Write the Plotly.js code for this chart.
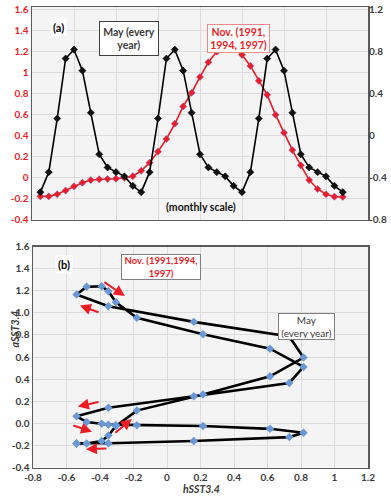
<!DOCTYPE html>
<html>
<head>
<meta charset="utf-8">
<script src="https://cdn.plot.ly/plotly-3.0.1.min.js"></script>
<style>html,body{margin:0;padding:0;background:#fff;}#chart{width:391px;height:503px;}</style>
</head>
<body>
<div id="chart"></div>
<script>
// Month index (monthly scale, 3 years + 1)
const months = [1,2,3,4,5,6,7,8,9,10,11,12,13,14,15,16,17,18,19,20,21,22,23,24,25,26,27,28,29,30,31,32,33,34,35,36,37];
// hSST3.4 (black, right axis in (a); x in (b)) - peaks every May
const hSST = [-0.54,-0.35,0.16,0.73,0.815,0.615,0.215,-0.18,-0.305,-0.35,-0.39,-0.48,
              -0.54,-0.35,0.16,0.73,0.815,0.615,0.215,-0.18,-0.305,-0.35,-0.39,-0.48,
              -0.54,-0.35,0.16,0.73,0.815,0.615,0.215,-0.18,-0.305,-0.35,-0.39,-0.48,-0.54];
// aSST3.4 (red, left axis in (a); y in (b)) - peak in Nov. 1991/1994/1997
const aSST = [-0.18,-0.18,-0.16,-0.125,-0.085,-0.05,-0.025,-0.018,-0.015,-0.012,-0.004,0.012,
              0.063,0.14,0.245,0.365,0.51,0.675,0.805,0.955,1.095,1.195,1.24,1.235,
              1.165,1.06,0.918,0.785,0.595,0.425,0.26,0.115,-0.025,-0.11,-0.16,-0.183,-0.185];

const leftTickVals = [-0.4,-0.2,0,0.2,0.4,0.6,0.8,1,1.2,1.4,1.6];
const leftTickText = ['-0.4','-0.2','0','0.2','0.4','0.6','0.8','1','1.2','1.4','1.6'];
const rightTickVals = [-0.8,-0.4,0,0.4,0.8,1.2];
const rightTickText = ['-0.8','-0.4','0','0.4','0.8','1.2'];
const bXTickVals = [-0.8,-0.6,-0.4,-0.2,0,0.2,0.4,0.6,0.8,1,1.2];
const bXTickText = ['-0.8','-0.6','-0.4','-0.2','0','0.2','0.4','0.6','0.8','1','1.2'];
const bYTickVals = [-0.4,-0.2,0,0.2,0.4,0.6,0.8,1,1.2,1.4,1.6];
const bYTickText = ['-0.4','-0.2','0.0','0.2','0.4','0.6','0.8','1.0','1.2','1.4','1.6'];

// arrows in panel (b): [tailX, tailY, headX, headY]
const arrows = [
  [-0.383, 1.287, -0.252, 1.151],
  [-0.40, 1.00, -0.52, 1.066],
  [-0.40, 0.196, -0.532, 0.151],
  [-0.568, -0.015, -0.448, -0.076],
  [-0.353, -0.227, -0.484, -0.234],
  [-0.317, -0.097, -0.21, 0.039]
];

const RED = '#ee1c25';
const DARK = '#3a3a3a';
const FONT = 'Lato, "Liberation Sans", sans-serif';
const W = 391, H = 503;
const px = v => v / W;
const py = v => 1 - v / H;

const traces = [
  {x: months, y: aSST, xaxis: 'x', yaxis: 'y', mode: 'lines+markers', type: 'scatter',
   line: {color: RED, width: 1.6},
   marker: {symbol: 'diamond', size: 5.5, color: RED, line: {color: 'rgba(110,90,200,0.7)', width: 0.6}}},
  {x: months, y: hSST, xaxis: 'x', yaxis: 'y2', mode: 'lines+markers', type: 'scatter',
   line: {color: '#000', width: 1.6},
   marker: {symbol: 'diamond', size: 5.5, color: '#111', line: {color: '#000', width: 0.5}}},
  {x: hSST, y: aSST, xaxis: 'x2', yaxis: 'y3', mode: 'lines+markers', type: 'scatter',
   line: {color: '#000', width: 2.6},
   marker: {symbol: 'diamond', size: 6.5, color: '#6a98d6'}}
];

const gridc = '#dcdcdc';
const axisLine = '#5a5a5a';
const tickFont = {family: FONT, size: 10, color: DARK, weight: 'bold'};

const annotations = [
  {xref:'paper', yref:'paper', x: px(50), y: py(18), text:'<b>(a)</b>', showarrow:false,
   font:{family:FONT,size:11,color:'#000'}, bgcolor:'#fff', borderpad:2},
  {xref:'paper', yref:'paper', x: px(99), y: py(21), text:'<b>May (every<br>year)</b>', showarrow:false,
   font:{family:FONT,size:10.5,color:DARK}, bgcolor:'#fff', bordercolor:'#404040', borderwidth:1,
   width:56, height:31, align:'center'},
  {xref:'paper', yref:'paper', x: px(238.5), y: py(24), text:'<b>Nov. (1991,<br>1994, 1997)</b>', showarrow:false,
   font:{family:FONT,size:10.5,color:RED}, bgcolor:'#fff', bordercolor:'#f08a8a', borderwidth:1,
   width:59, height:25, align:'center'},
  {xref:'paper', yref:'paper', x: px(200.5), y: py(207), text:'<b>(monthly scale)</b>', showarrow:false,
   font:{family:FONT,size:10.5,color:'#111'}},
  {xref:'paper', yref:'paper', x: px(55), y: py(264), text:'<b>(b)</b>', showarrow:false,
   font:{family:FONT,size:11,color:'#000'}, bgcolor:'#fff', borderpad:2},
  {xref:'paper', yref:'paper', x: px(121), y: py(266.5), text:'<b>Nov. (1991,1994,<br>1997)</b>', showarrow:false,
   font:{family:FONT,size:9.5,color:RED}, bgcolor:'#fff', bordercolor:'#7f7f7f', borderwidth:1,
   width:76, height:22, align:'center'},
  {xref:'paper', yref:'paper', x: px(334.7), y: py(340), text:'May<br>(every year)', showarrow:false,
   font:{family:FONT,size:10,color:DARK}, bgcolor:'#fff', bordercolor:'#7f7f7f', borderwidth:1,
   width:53, height:23, align:'center'},
  {xref:'paper', yref:'paper', x: px(201), y: py(497), text:'<b><i>hSST3.4</i></b>', showarrow:false,
   font:{family:FONT,size:10.5,color:DARK}},
  {xref:'paper', yref:'paper', x: px(6), y: py(350), text:'<b><i>aSST3.4</i></b>', showarrow:false,
   textangle:-90, font:{family:FONT,size:10.5,color:DARK}}
];
arrows.forEach(a => annotations.push({
  xref:'x2', yref:'y3', axref:'x2', ayref:'y3',
  x:a[2], y:a[3], ax:a[0], ay:a[1], text:'', showarrow:true,
  arrowcolor:RED, arrowwidth:2, arrowhead:2, arrowsize:1.1
}));

const layout = {
  width: W, height: H,
  margin: {l:0, r:0, t:0, b:0},
  paper_bgcolor: '#fff',
  plot_bgcolor: '#f4f4f4',
  showlegend: false,
  font: {family: FONT},
  xaxis: {domain:[px(32), px(368)], range:[0,40], tick0:0, dtick:5, showticklabels:false, ticks:'',
          showgrid:true, gridcolor:gridc, gridwidth:1, zeroline:false,
          showline:true, linecolor:axisLine, linewidth:1.5, mirror:true, anchor:'y'},
  yaxis: {domain:[py(219.5), py(7)], range:[-0.4,1.62], tickvals:leftTickVals, ticktext:leftTickText,
          tickfont:{family:FONT,size:10,color:RED,weight:'bold'}, ticks:'', ticklabeloverflow:'allow',
          showgrid:true, gridcolor:gridc, zeroline:false,
          showline:true, linecolor:axisLine, linewidth:1.5, mirror:true, anchor:'x'},
  yaxis2: {overlaying:'y', side:'right', range:[-0.8,1.22], tickvals:rightTickVals, ticktext:rightTickText,
           tickfont:tickFont, ticks:'', ticklabeloverflow:'allow', showgrid:false, zeroline:false, anchor:'x'},
  xaxis2: {domain:[px(33), px(368)], range:[-0.8,1.2], tickvals:bXTickVals, ticktext:bXTickText,
           tickfont:tickFont, ticks:'', ticklabeloverflow:'allow', showgrid:true, gridcolor:gridc, zeroline:false,
           showline:true, linecolor:axisLine, linewidth:1.5, mirror:true, anchor:'y3'},
  yaxis3: {domain:[py(467.5), py(246.5)], range:[-0.4,1.6], tickvals:bYTickVals, ticktext:bYTickText,
           tickfont:tickFont, ticks:'', ticklabeloverflow:'allow', showgrid:true, gridcolor:gridc, zeroline:false,
           showline:true, linecolor:axisLine, linewidth:1.5, mirror:true, anchor:'x2'},
  annotations: annotations
};

Plotly.newPlot('chart', traces, layout, {staticPlot:true, displayModeBar:false});
</script>
</body>
</html>
